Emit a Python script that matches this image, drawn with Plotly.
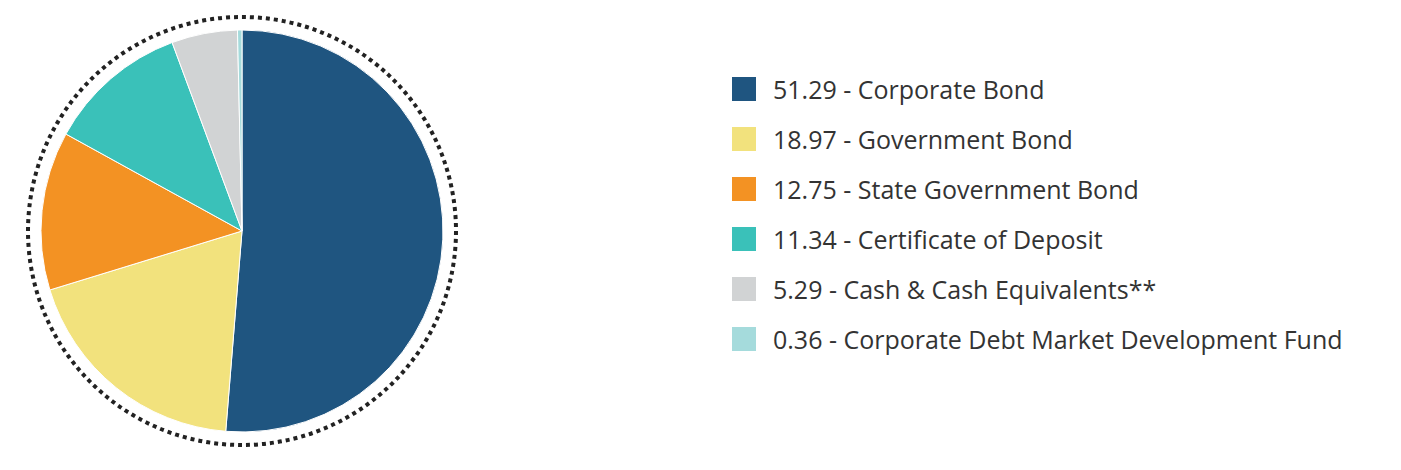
import plotly.graph_objects as go

labels = ["Corporate Bond", "Government Bond", "State Government Bond",
          "Certificate of Deposit", "Cash & Cash Equivalents**",
          "Corporate Debt Market Development Fund"]
values = [51.29, 18.97, 12.75, 11.34, 5.29, 0.36]
colors = ["#1f5580", "#f2e27d", "#f39223", "#3ac1b9", "#d1d3d4", "#a5dbdc"]

W, H = 1401, 470
OX, OY = 8, 9  # compensate page offset
cx, cy, r = 242 - OX, 232 - OY, 201
fig = go.Figure(go.Pie(
    values=values, labels=labels, sort=False, direction="clockwise", rotation=0,
    marker=dict(colors=colors, line=dict(color="white", width=1)),
    textinfo="none", hoverinfo="label+value", showlegend=False,
    domain=dict(x=[(cx - r) / W, (cx + r) / W], y=[(H - cy - r) / H, (H - cy + r) / H]),
))

R = 214
shapes = [dict(type="circle", xref="paper", yref="paper",
               x0=(cx - R) / W, x1=(cx + R) / W, y0=(H - cy - R) / H, y1=(H - cy + R) / H,
               line=dict(color="#222", width=4, dash="dot"))]
annotations = []
for i, (lab, v, c) in enumerate(zip(labels, values, colors)):
    yc = 90 + i * 50 - OY
    shapes.append(dict(type="rect", xref="paper", yref="paper",
                       x0=(732 - OX) / W, x1=(756 - OX) / W,
                       y0=(H - yc - 12) / H, y1=(H - yc + 12) / H,
                       fillcolor=c, line=dict(width=0)))
    annotations.append(dict(xref="paper", yref="paper", x=(771 - OX) / W, y=(H - yc) / H,
                            xanchor="left", yanchor="middle", showarrow=False,
                            text=f"{v:.2f} - {lab}",
                            font=dict(family="Open Sans", size=25, color="#333")))

fig.update_layout(width=W, height=H, margin=dict(l=0, r=0, t=0, b=0),
                  paper_bgcolor="white", plot_bgcolor="white",
                  shapes=shapes, annotations=annotations)
fig.write_html("out.html")
